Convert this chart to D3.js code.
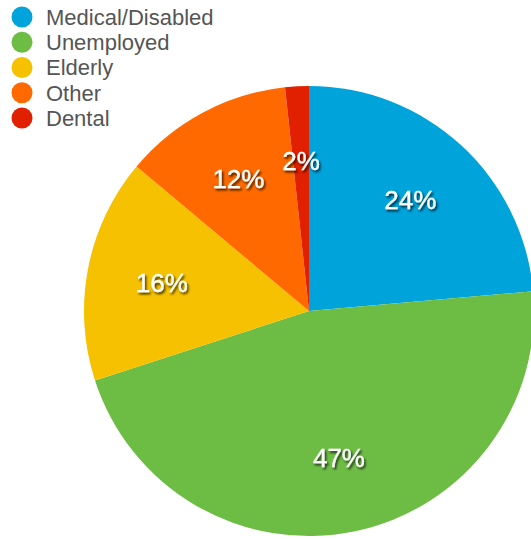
<!DOCTYPE html>
<html><head><meta charset="utf-8">
<script src="https://cdn.jsdelivr.net/npm/d3@7"></script>
<style>
html,body{margin:0;padding:0;background:#fff;overflow:hidden;}
</style></head>
<body>
<svg id="c" width="531" height="539"></svg>
<script>
const categories = ["Medical/Disabled", "Unemployed", "Elderly", "Other", "Dental"];
const values = [23.6, 46.4, 16.1, 12.2, 1.7];
const labels = ["24%", "47%", "16%", "12%", "2%"];
const colors = ["#00A3DA", "#6DBD45", "#F6C100", "#FF6900", "#E02000"];

const svg = d3.select("#c");
const defs = svg.append("defs");
const f = defs.append("filter").attr("id","sh").attr("x","-20%").attr("y","-20%").attr("width","140%").attr("height","160%");
f.append("feDropShadow").attr("dx",1.5).attr("dy",2).attr("stdDeviation",1.3).attr("flood-color","#000").attr("flood-opacity",0.75);

const cx = 309, cy = 311, R = 225;
const pie = d3.pie().sort(null).value(d => d);
const arcs = pie(values);
const arc = d3.arc().innerRadius(0).outerRadius(R);
const labelArc = d3.arc().innerRadius(150).outerRadius(150);
const color = d3.scaleOrdinal().domain(categories).range(colors);

const g = svg.append("g").attr("transform", `translate(${cx},${cy})`);
g.selectAll("path").data(arcs).join("path")
  .attr("d", arc)
  .attr("fill", (d,i) => color(categories[i]));

g.selectAll("text").data(arcs).join("text")
  .attr("transform", d => { const c = labelArc.centroid(d); return `translate(${c[0]},${c[1]})`; })
  .attr("text-anchor","middle")
  .attr("dy","0.35em")
  .attr("fill","#fff")
  .attr("font-family","Liberation Sans, Arial, sans-serif")
  .attr("font-size","26px")
  .attr("stroke","#fff").attr("stroke-width",0.3)
  .attr("filter","url(#sh)")
  .text((d,i) => labels[i]);

const leg = svg.append("g");
const y = d3.scalePoint().domain(categories).range([17, 118]);
const items = leg.selectAll("g").data(categories).join("g")
  .attr("transform", d => `translate(0,${y(d)})`);
items.append("circle").attr("cx",22).attr("cy",0).attr("r",10.5).attr("fill", d => color(d));
items.append("text").attr("x",46).attr("y",0).attr("dy","0.36em")
  .attr("fill","#555").attr("font-family","Liberation Sans, Arial, sans-serif")
  .attr("font-size","22px").text(d => d);
</script>
</body></html>
